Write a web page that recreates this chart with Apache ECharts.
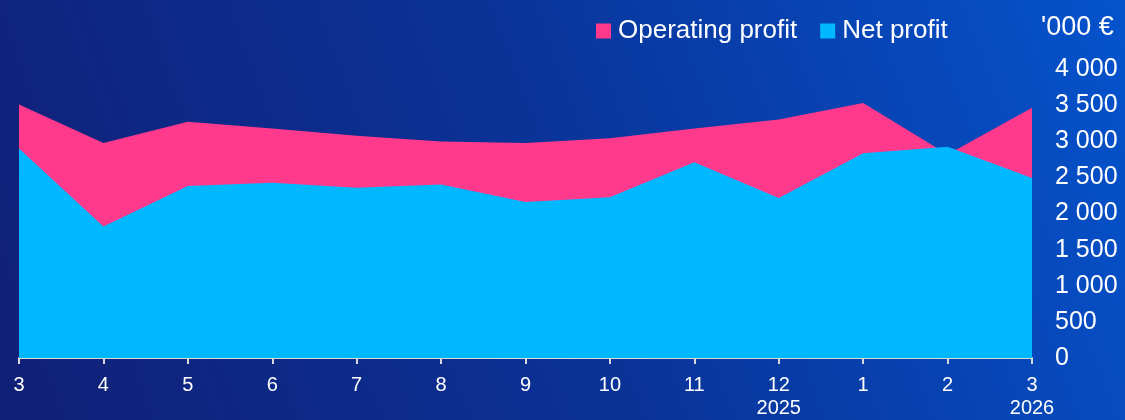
<!DOCTYPE html>
<html>
<head>
<meta charset="utf-8">
<script src="https://cdn.jsdelivr.net/npm/echarts@6/dist/echarts.min.js"></script>
<style>html,body{margin:0;padding:0;}#c{width:1125px;height:420px;}</style>
</head>
<body>
<div id="c"></div>
<script>
var months = ['3','4','5','6','7','8','9','10','11','12','1','2','3'];
var years = ['','','','','','','','','','2025','','','2026'];
var operatingProfit = [3510, 2975, 3270, 3175, 3075, 2995, 2975, 3040, 3175, 3300, 3530, 2815, 3465];
var netProfit = [2900, 1820, 2380, 2425, 2355, 2400, 2160, 2225, 2710, 2215, 2835, 2925, 2490];
var yTicks = [0, 500, 1000, 1500, 2000, 2500, 3000, 3500, 4000];

var categories = months.map(function (m, i) { return years[i] ? m + '\n' + years[i] : m; });
var font = '"Liberation Sans", Arial, sans-serif';
var chart = echarts.init(document.getElementById('c'));
chart.setOption({
  backgroundColor: {
    type: 'linear', x: 0, y: 1, x2: 1, y2: 0,
    colorStops: [{offset: 0, color: '#111f76'}, {offset: 0.5, color: '#0a3398'}, {offset: 1, color: '#0553cc'}]
  },
  animation: false,
  legend: {
    left: 591, top: 13,
    itemWidth: 15, itemHeight: 15, itemGap: 23,
    icon: 'rect',
    textStyle: {color: '#ffffff', fontSize: 26, fontFamily: font, padding: [0, 0, 0, 2]},
    data: ['Operating profit', 'Net profit']
  },
  graphic: [{
    type: 'text', left: 1041, top: 14,
    style: {text: "'000 €", fill: '#ffffff', fontSize: 27, fontFamily: font}
  }],
  grid: {left: 19, right: 93, top: 69, bottom: 57},
  xAxis: {
    type: 'category', boundaryGap: false, data: categories,
    axisLine: {lineStyle: {color: '#d9d9d9', width: 2}},
    axisTick: {show: true, length: 6, lineStyle: {color: '#d9d9d9', width: 2}},
    axisLabel: {color: '#ffffff', fontSize: 20, fontFamily: font, margin: 16, lineHeight: 23, interval: 0}
  },
  yAxis: {
    type: 'value', position: 'right', min: yTicks[0], max: yTicks[yTicks.length - 1], interval: 500,
    splitLine: {show: false}, axisLine: {show: false}, axisTick: {show: false},
    axisLabel: {
      color: '#ffffff', fontSize: 25, fontFamily: font, align: 'left', margin: 23,
      formatter: function (v) { return String(v).replace(/\B(?=(\d{3})+(?!\d))/g, ' '); }
    }
  },
  series: [{
    name: 'Operating profit', type: 'line', data: operatingProfit,
    symbol: 'none', lineStyle: {width: 0}, itemStyle: {color: '#ff3a8c'},
    areaStyle: {color: '#ff3a8c', opacity: 1}
  }, {
    name: 'Net profit', type: 'line', data: netProfit,
    symbol: 'none', lineStyle: {width: 0}, itemStyle: {color: '#00b8ff'},
    areaStyle: {color: '#00b8ff', opacity: 1}
  }]
});
</script>
</body>
</html>
